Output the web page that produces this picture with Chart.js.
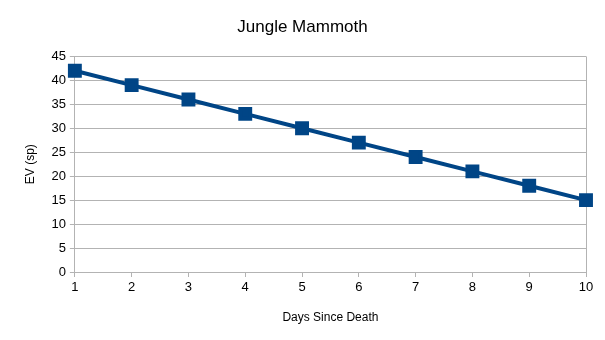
<!DOCTYPE html>
<html>
<head>
<meta charset="utf-8">
<script src="https://cdn.jsdelivr.net/npm/chart.js@4"></script>
<style>
  html, body { margin: 0; padding: 0; background: #fff; }
  #wrap { width: 605px; height: 340px; }
</style>
</head>
<body>
<div id="wrap"><canvas id="chart" width="605" height="340"></canvas></div>
<script>
const days = ["1", "2", "3", "4", "5", "6", "7", "8", "9", "10"];
const ev = [42, 39, 36, 33, 30, 27, 24, 21, 18, 15];

const GRID = "#b3b3b3";
const LINE = "#004586";

Chart.defaults.font.family = "'Liberation Sans', Arial, sans-serif";
Chart.defaults.color = "#000";

new Chart(document.getElementById("chart"), {
    type: "line",
    data: {
        labels: days,
        datasets: [{
            data: ev,
            borderColor: LINE,
            backgroundColor: LINE,
            borderWidth: 4,
            pointStyle: "rect",
            pointRadius: 7,
            pointHoverRadius: 7,
            tension: 0,
        }],
    },
    options: {
        responsive: false,
        animation: false,
        layout: { padding: { left: 19, right: 19, top: 6, bottom: 11 } },
        plugins: {
            legend: { display: false },
            tooltip: { enabled: false },
            title: {
                display: true,
                text: "Jungle Mammoth",
                font: { size: 17, weight: "normal" },
                color: "#000",
                padding: { top: 11, bottom: 19 },
            },
        },
        scales: {
            x: {
                offset: false,
                grid: {
                    color: ctx => ctx.index === days.length - 1 ? GRID : "rgba(0,0,0,0)",
                    tickColor: GRID,
                    tickLength: 5,
                },
                border: { display: true, color: GRID },
                ticks: { font: { size: 13 }, padding: 3, maxRotation: 0 },
                title: {
                    display: true,
                    text: "Days Since Death",
                    font: { size: 12 },
                    padding: { top: 12 },
                },
            },
            y: {
                min: 0,
                max: 45,
                ticks: { stepSize: 5, font: { size: 13 }, padding: 4 },
                grid: { color: GRID, tickLength: 5 },
                border: { display: true, color: GRID },
                title: {
                    display: true,
                    text: "EV (sp)",
                    font: { size: 12 },
                    padding: { bottom: 10 },
                },
            },
        },
    },
});
</script>
</body>
</html>
